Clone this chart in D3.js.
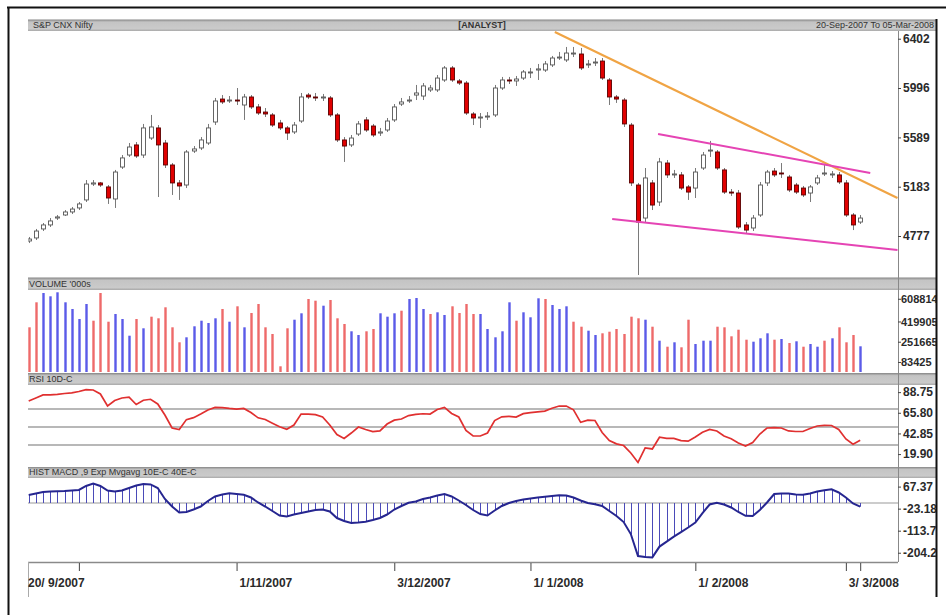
<!DOCTYPE html>
<html>
<head>
<meta charset="utf-8">
<title>S&amp;P CNX Nifty</title>
<script src="https://cdn.jsdelivr.net/npm/d3@7/dist/d3.min.js"></script>
<style>
  body { margin: 0; background: #fff; }
  #chart { width: 946px; height: 615px; }
  text { font-family: "Liberation Sans", Arial, sans-serif; }
  .axis text { font-weight: bold; font-size: 12px; fill: #2a2a2a; }
  .axis.vol text { font-size: 11px; }
  .axis line { stroke: #444; }
  .axis path { display: none; }
</style>
</head>
<body>
<div id="chart"></div>
<script>
// daily prices, 20 Sep 2007 .. 05 Mar 2008 (117 sessions)
var openP = [4736,4761,4835,4868,4925,4950,4975,5008,5074,5205,
  5214,5181,5082,5345,5444,5527,5444,5584,5667,5543,
  5362,5214,5197,5477,5502,5543,5716,5905,5889,5897,
  5856,5922,5840,5798,5774,5708,5667,5634,5724,5938,
  5922,5914,5914,5774,5568,5527,5617,5733,5683,5625,
  5650,5733,5864,5889,5938,5930,5980,5980,6062,6161,
  6054,6037,5782,5749,5757,5774,5996,6062,6054,6078,
  6120,6144,6144,6186,6243,6227,6276,6276,6186,6202,
  6218,6062,5922,5897,5691,5197,4925,5214,5057,5378,
  5280,5280,5181,5172,5337,5477,5469,5321,5139,5131,
  4868,4843,4950,5214,5312,5296,5263,5197,5172,5131,
  5214,5288,5280,5280,5214,4950,4892];
var highP = [4769,4835,4884,4925,4950,4991,5016,5057,5238,5238,
  5222,5197,5321,5444,5543,5551,5700,5774,5691,5568,
  5378,5238,5485,5518,5592,5700,5914,5938,5930,5996,
  5947,5938,5864,5831,5790,5733,5683,5716,5955,5955,
  5955,5947,5930,5790,5592,5609,5724,5757,5700,5667,
  5749,5864,5914,5930,6021,6037,6021,6103,6177,6177,
  6070,6054,5798,5790,5798,6021,6087,6087,6095,6144,
  6161,6194,6218,6260,6293,6334,6334,6326,6227,6243,
  6243,6078,5938,5914,5708,5214,5337,5238,5420,5403,
  5321,5304,5197,5337,5469,5560,5485,5337,5164,5156,
  4892,4950,5222,5321,5337,5378,5280,5214,5189,5197,
  5280,5362,5312,5304,5238,4966,4950];
var lowP = [4719,4744,4818,4851,4909,4942,4958,4991,5057,5189,
  5181,5041,5008,5329,5428,5420,5420,5568,5098,5337,
  5115,5074,5172,5461,5485,5527,5691,5864,5873,5856,
  5733,5823,5774,5757,5675,5650,5568,5617,5708,5905,
  5889,5889,5757,5551,5387,5510,5601,5634,5592,5601,
  5634,5716,5848,5873,5897,5897,5963,5963,6046,6046,
  6021,5774,5691,5667,5733,5757,5980,6029,6013,6062,
  6078,6062,6128,6169,6227,6210,6251,6144,6161,6177,
  6062,5856,5873,5675,5189,4456,4892,4991,5024,5255,
  5255,5156,5074,5090,5321,5428,5321,5123,5107,4835,
  4802,4818,4934,5189,5263,5255,5139,5123,5098,5057,
  5197,5271,5255,5205,4934,4826,4876];
var closeP = [4752,4818,4868,4901,4934,4975,4999,5041,5205,5214,
  5197,5090,5304,5420,5510,5436,5667,5675,5527,5362,
  5214,5189,5469,5494,5568,5667,5889,5881,5897,5889,
  5922,5840,5790,5782,5691,5667,5625,5691,5922,5922,
  5914,5922,5774,5568,5518,5584,5700,5650,5609,5634,
  5724,5840,5881,5897,5955,6013,5996,6078,6161,6062,
  6037,5790,5749,5757,5765,5996,6062,6054,6070,6128,
  6128,6153,6194,6243,6251,6284,6284,6161,6194,6210,
  6078,5922,5905,5700,5214,4892,5255,5032,5387,5280,
  5288,5172,5139,5304,5444,5485,5337,5139,5131,4851,
  4826,4925,5197,5304,5280,5288,5156,5139,5115,5181,
  5255,5296,5288,5222,4950,4868,4925];

// volume in '000s and bar colour flag (1 = blue, 0 = red)
var volume = [371500,579300,656600,629200,662500,579300,523700,440500,565200,426400,
  656600,418100,482100,440500,301700,440500,363200,459700,446400,537800,
  371500,246900,288400,379900,426400,407300,446400,523700,418100,546100,
  371500,490400,565200,371500,315900,47400,363200,434700,487900,606800,
  592600,551100,598500,446400,399000,338300,307500,338300,357400,487900,
  459700,487900,509500,606800,615100,523700,482100,496200,473800,546100,
  490400,565200,482100,482100,357400,288400,338300,579300,426400,496200,
  454700,612600,606800,556900,523700,546100,418100,376500,343300,307500,
  321700,335000,357400,315900,459700,446400,434700,376500,260200,210300,
  246900,205300,434700,232700,260200,260200,376500,371500,296700,351600,
  268500,251900,280100,321700,268500,274300,241000,255200,210300,232700,
  210300,260200,280100,371500,246900,307500,213600];
var volUp = [0,0,1,1,1,1,1,1,1,0,
  0,0,1,1,1,0,1,0,0,0,
  0,0,1,1,1,1,1,0,1,0,
  1,0,0,0,0,0,0,1,1,0,
  0,1,0,0,0,1,1,0,0,1,
  1,1,0,1,1,1,0,1,1,0,
  0,0,0,1,1,1,1,1,0,1,
  1,1,0,1,1,1,0,0,1,1,
  0,0,0,0,0,0,1,0,1,0,
  1,0,0,1,1,1,0,0,0,0,
  0,1,1,1,0,1,0,1,0,1,
  1,0,1,0,0,0,1];

var rsi = [78.9,82.2,85.6,85.6,86.2,87.2,88.0,89.4,91.6,91.1,
  86.7,73.3,79.4,82.2,83.1,75.0,79.7,80.8,75.6,63.3,
  48.9,47.2,58.2,60.4,64.4,68.9,71.7,71.6,70.6,69.8,
  70.6,66.1,60.2,58.3,54.2,50.2,47.4,52.2,64.4,64.2,
  63.8,61.1,52.2,41.6,37.2,43.3,50.0,47.2,44.8,45.6,
  53.3,57.6,58.9,62.7,64.1,64.7,64.4,69.4,71.7,65.0,
  61.1,46.1,40.0,40.0,43.3,57.2,61.3,61.9,61.1,64.8,
  66.0,66.9,67.6,70.9,73.3,73.3,69.1,55.2,57.6,57.2,
  43.9,35.0,31.3,29.4,21.1,10.6,26.7,25.6,38.6,37.4,
  37.4,34.9,34.2,38.9,44.2,47.4,45.6,40.0,36.9,32.2,
  28.9,32.8,42.2,48.9,49.2,48.9,45.6,45.0,45.0,48.3,
  51.1,51.9,51.7,47.2,36.7,30.8,35.2];

var macdHist = [32.9,39.1,45.3,47.3,48.6,49.4,51.4,53.5,70.0,80.2,
  70.0,51.4,47.3,51.4,61.7,72.0,78.2,76.1,61.7,16.5,
  -14.4,-39.1,-37.0,-26.7,-14.4,8.2,26.7,35.0,39.9,37.0,
  33.7,22.6,2.1,-14.4,-32.9,-51.4,-55.6,-47.3,-41.2,-35.0,
  -28.8,-26.7,-35.0,-61.7,-74.1,-82.3,-80.2,-77.4,-70.0,-61.7,
  -47.3,-26.7,-12.3,0.8,6.2,16.5,22.6,30.9,37.0,26.7,
  10.3,-8.2,-28.8,-45.3,-51.4,-30.9,-12.3,0,8.2,14.4,
  18.5,22.6,25.5,28.8,31.7,30.9,22.6,10.3,0,-4.9,
  -12.3,-32.9,-53.5,-78.2,-127.6,-218.1,-222.2,-223.4,-179.0,-158.4,
  -137.9,-119.3,-100.8,-80.2,-41.2,-6.2,0.8,-6.2,-18.5,-37.0,
  -52.7,-53.5,-28.8,2.1,37.0,39.5,39.1,34.6,33.7,39.1,
  47.3,52.7,56.0,43.2,22.6,-2.1,-15.2];

// drawn trend lines [session index, price]
var orangeLine = [[73.4, 6457], [121.2, 5090]];
var pinkUpper = [[87.8, 5617], [117.4, 5296]];
var pinkLower = [[81.4, 4917], [121.2, 4662]];

// axis ticks
var priceTicks = [4777, 5183, 5589, 5996, 6402];
var volTicks = [83425, 251665, 419905, 608814];
var rsiTicks = [19.90, 42.85, 65.80, 88.75];
var rsiLevels = [70, 50, 30];
var macdTicks = [67.37, -23.18, -113.72, -204.27];
var dateTicks = [7, 29, 51, 70, 93, 114, 116];
var dateLabelIdx = [0, 29, 51, 70, 93, 114];
var dateLabels = ["20/ 9/2007", "1/11/2007", "3/12/2007", "1/ 1/2008", "1/ 2/2008", "3/ 3/2008"];


var width = 946, height = 615;
var L = 28, R = 898, E = 936;

var svg = d3.select("#chart").append("svg")
  .attr("width", width)
  .attr("height", height);

var x = d3.scaleLinear().domain([0, 116]).range([28.7, 860.2]);
var yPrice = d3.scaleLinear().domain([4777, 5996]).range([236, 88]);
var yVol = d3.scaleLinear().domain([0, 640000]).range([372, 295]);
var yRsi = d3.scaleLinear().domain([0, 100]).range([472, 382]);
var yMacd = d3.scaleLinear().domain([0, 67.37]).range([503, 486.6]);

var panels = [
  {id: "price", top: 31, bottom: 277},
  {id: "vol", top: 290, bottom: 373},
  {id: "rsi", top: 385, bottom: 467},
  {id: "macd", top: 478, bottom: 562}
];

var defs = svg.append("defs");
var grad = defs.append("linearGradient").attr("id", "barGrad")
  .attr("x1", 0).attr("y1", 0).attr("x2", 0).attr("y2", 1);
grad.append("stop").attr("offset", "0%").attr("stop-color", "#858585");
grad.append("stop").attr("offset", "22%").attr("stop-color", "#c4c4c4");
grad.append("stop").attr("offset", "80%").attr("stop-color", "#cacaca");
grad.append("stop").attr("offset", "100%").attr("stop-color", "#a8a8a8");

panels.forEach(function(p) {
  defs.append("clipPath").attr("id", "clip-" + p.id)
    .append("rect")
    .attr("x", L).attr("y", p.top)
    .attr("width", R - L).attr("height", p.bottom - p.top);
});
defs.append("clipPath").attr("id", "clip-labels")
  .append("rect").attr("x", R - 4).attr("y", 0).attr("width", E - R + 4).attr("height", height);

// grey title strips
var strips = [
  {y: 19.5, h: 11.5, text: "S&P CNX Nifty", tx: 33},
  {y: 277.5, h: 12.5, text: "VOLUME '000s", tx: 29},
  {y: 373, h: 12, text: "RSI  10D-C", tx: 29},
  {y: 467, h: 11, text: "HIST  MACD ,9 Exp Mvgavg  10E-C 40E-C", tx: 29}
];
strips.forEach(function(s) {
  svg.append("rect")
    .attr("x", L).attr("y", s.y)
    .attr("width", E - L).attr("height", s.h)
    .attr("fill", "url(#barGrad)");
  svg.append("text")
    .attr("x", s.tx).attr("y", s.y + s.h - 3)
    .attr("font-size", "9px")
    .attr("fill", "#333")
    .text(s.text);
});
svg.append("text")
  .attr("x", 482).attr("y", 28)
  .attr("text-anchor", "middle")
  .attr("font-size", "9px").attr("font-weight", "bold")
  .attr("fill", "#333")
  .text("[ANALYST]");
svg.append("text")
  .attr("x", 934).attr("y", 28)
  .attr("text-anchor", "end")
  .attr("font-size", "9px")
  .attr("fill", "#333")
  .text("20-Sep-2007 To 05-Mar-2008");

// outer frame
svg.append("line").attr("x1", 7).attr("x2", 946).attr("y1", 7.5).attr("y2", 7.5)
  .attr("stroke", "#111").attr("stroke-width", 2);
svg.append("line").attr("x1", 8.5).attr("x2", 8.5).attr("y1", 7).attr("y2", 615)
  .attr("stroke", "#111").attr("stroke-width", 2);
svg.append("line").attr("x1", 936.5).attr("x2", 936.5).attr("y1", 19).attr("y2", 597)
  .attr("stroke", "#111").attr("stroke-width", 2);

// right axis rule
svg.append("line").attr("x1", R + 0.5).attr("x2", R + 0.5).attr("y1", 31).attr("y2", 562)
  .attr("stroke", "#888").attr("stroke-width", 1);

/* ---------- price panel ---------- */
var idx = d3.range(openP.length);
var pg = svg.append("g").attr("clip-path", "url(#clip-price)");

pg.selectAll("line.wick")
  .data(idx)
  .enter()
  .append("line")
  .attr("class", "wick")
  .attr("x1", function(i) { return Math.round(x(i)) + 0.5; })
  .attr("x2", function(i) { return Math.round(x(i)) + 0.5; })
  .attr("y1", function(i) { return yPrice(highP[i]); })
  .attr("y2", function(i) { return yPrice(lowP[i]); })
  .attr("stroke", "#7a7a7a")
  .attr("stroke-width", 1);

pg.selectAll("rect.body")
  .data(idx)
  .enter()
  .append("rect")
  .attr("class", "body")
  .attr("x", function(i) { return Math.round(x(i)) - 1.5; })
  .attr("width", 4)
  .attr("y", function(i) { return yPrice(Math.max(openP[i], closeP[i])); })
  .attr("height", function(i) {
    return Math.max(1, yPrice(Math.min(openP[i], closeP[i])) - yPrice(Math.max(openP[i], closeP[i])));
  })
  .attr("fill", function(i) { return closeP[i] < openP[i] ? "#e00000" : "#ffffff"; })
  .attr("stroke", function(i) { return closeP[i] < openP[i] ? "#5a0000" : "#555"; })
  .attr("stroke-width", 0.9);

var trend = d3.line()
  .x(function(d) { return x(d[0]); })
  .y(function(d) { return yPrice(d[1]); });
pg.append("path").attr("d", trend(orangeLine))
  .attr("fill", "none").attr("stroke", "#f0a444").attr("stroke-width", 2.2);
pg.append("path").attr("d", trend(pinkUpper))
  .attr("fill", "none").attr("stroke", "#e544b4").attr("stroke-width", 2);
pg.append("path").attr("d", trend(pinkLower))
  .attr("fill", "none").attr("stroke", "#e544b4").attr("stroke-width", 2);

/* ---------- volume panel ---------- */
var vg = svg.append("g").attr("clip-path", "url(#clip-vol)");
vg.selectAll("rect")
  .data(idx)
  .enter()
  .append("rect")
  .attr("x", function(i) { return Math.round(x(i)) - 0.7; })
  .attr("width", 2.4)
  .attr("y", function(i) { return yVol(volume[i]); })
  .attr("height", function(i) { return yVol(0) - yVol(volume[i]); })
  .attr("fill", function(i) { return volUp[i] ? "#5b5be8" : "#ee6a6a"; });

/* ---------- RSI panel ---------- */
var rg = svg.append("g").attr("clip-path", "url(#clip-rsi)");
rg.selectAll("line.level")
  .data(rsiLevels)
  .enter()
  .append("line")
  .attr("x1", L).attr("x2", R)
  .attr("y1", function(d) { return yRsi(d); })
  .attr("y2", function(d) { return yRsi(d); })
  .attr("stroke", "#a0a0a0")
  .attr("stroke-width", 1.6);
rg.append("path")
  .datum(idx)
  .attr("d", d3.line()
    .x(function(i) { return x(i); })
    .y(function(i) { return yRsi(rsi[i]); }))
  .attr("fill", "none")
  .attr("stroke", "#e03030")
  .attr("stroke-width", 1.7);

/* ---------- MACD histogram panel ---------- */
var mg = svg.append("g").attr("clip-path", "url(#clip-macd)");
mg.append("line")
  .attr("x1", L).attr("x2", R)
  .attr("y1", yMacd(0)).attr("y2", yMacd(0))
  .attr("stroke", "#999").attr("stroke-width", 1.2);
mg.selectAll("line.hist")
  .data(idx)
  .enter()
  .append("line")
  .attr("class", "hist")
  .attr("x1", function(i) { return Math.round(x(i)) + 0.5; })
  .attr("x2", function(i) { return Math.round(x(i)) + 0.5; })
  .attr("y1", yMacd(0))
  .attr("y2", function(i) { return yMacd(macdHist[i]); })
  .attr("stroke", "#4a4ab8")
  .attr("stroke-width", 1);
mg.append("path")
  .datum(idx)
  .attr("d", d3.line()
    .x(function(i) { return x(i); })
    .y(function(i) { return yMacd(macdHist[i]); }))
  .attr("fill", "none")
  .attr("stroke", "#262690")
  .attr("stroke-width", 2);

/* ---------- right axes ---------- */
var axisG = svg.append("g").attr("clip-path", "url(#clip-labels)");
function rightAxis(scale, ticks, fmt, cls, pad) {
  axisG.append("g")
    .attr("class", "axis " + cls)
    .attr("transform", "translate(" + R + ",0)")
    .call(d3.axisRight(scale).tickValues(ticks).tickSize(3).tickPadding(pad).tickFormat(fmt));
}
rightAxis(yPrice, priceTicks, function(d) { return d; }, "price", 2);
rightAxis(yVol, volTicks, function(d) { return d; }, "vol", 0);
rightAxis(yRsi, rsiTicks, function(d) { return d.toFixed(2); }, "rsi", 2);
rightAxis(yMacd, macdTicks, function(d) { return d.toFixed(2); }, "macd", 2);

/* ---------- date axis ---------- */
svg.append("line").attr("x1", L).attr("x2", R).attr("y1", 562.5).attr("y2", 562.5)
  .attr("stroke", "#8a8a8a").attr("stroke-width", 1.5);
svg.append("line").attr("x1", L + 0.5).attr("x2", L + 0.5).attr("y1", 562).attr("y2", 597)
  .attr("stroke", "#aaa").attr("stroke-width", 1);
var xg = svg.append("g")
  .attr("class", "axis")
  .attr("transform", "translate(0,563)")
  .call(d3.axisBottom(x).tickValues(dateTicks).tickSize(8).tickFormat(""));
xg.selectAll("line").attr("stroke", "#777");

svg.selectAll("text.date")
  .data(dateLabelIdx)
  .enter()
  .append("text")
  .attr("class", "date")
  .attr("x", function(i) { return i === 0 ? L : x(i) + 3; })
  .attr("y", 587)
  .attr("font-size", "12px")
  .attr("font-weight", "bold")
  .attr("fill", "#2a2a2a")
  .text(function(d, k) { return dateLabels[k]; });
</script>
</body>
</html>
